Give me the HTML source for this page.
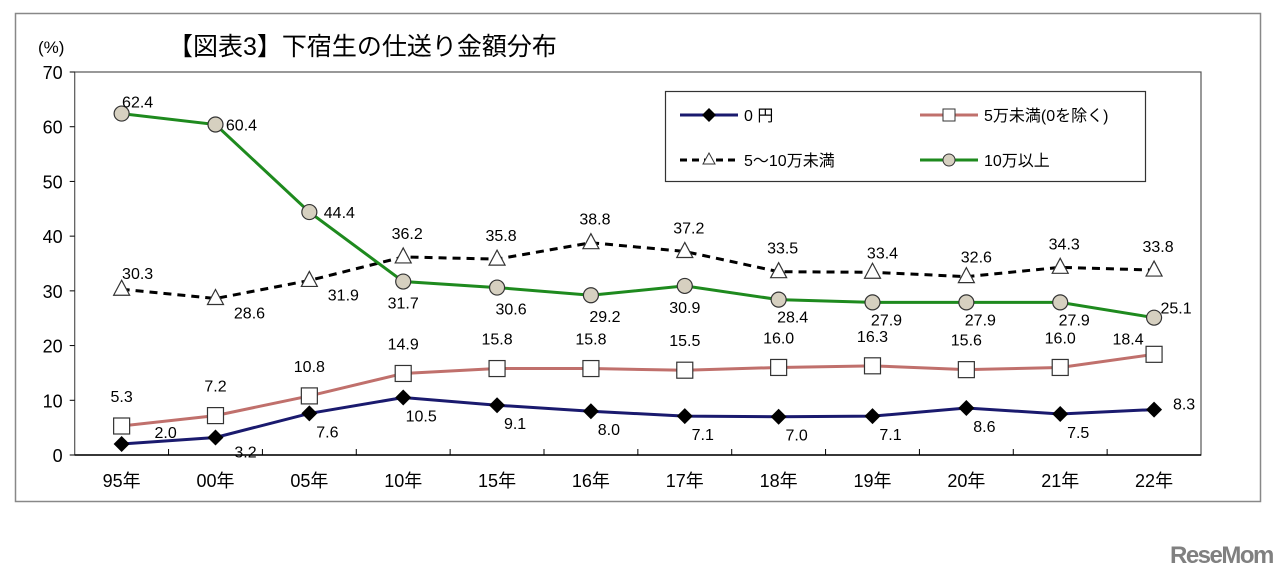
<!DOCTYPE html>
<html><head><meta charset="utf-8">
<style>
body{margin:0;background:#fff;width:1280px;height:581px;overflow:hidden;font-family:"Liberation Sans","Noto Sans CJK JP",sans-serif;}
svg text{font-family:"Liberation Sans","Noto Sans CJK JP",sans-serif;}
</style></head><body>
<svg id="chart" width="1280" height="581" xmlns="http://www.w3.org/2000/svg">
<rect x="15.5" y="13.5" width="1245" height="488" fill="#fff" stroke="#888" stroke-width="1.5"/>
<text x="38" y="53" font-size="17" fill="#000">(%)</text>
<text x="168" y="55" font-size="25" fill="#000">【図表3】下宿生の仕送り金額分布</text>
<g id="axes"></g>
<g id="series"></g>
<g id="legend">
<rect x="665.5" y="91.5" width="480" height="90" fill="#fff" stroke="#333" stroke-width="1.2"/>
<g>
<line x1="680" y1="115" x2="738" y2="115" stroke="#1a1a6e" stroke-width="3"/>
<polygon points="709,108 716,115 709,122 702,115" fill="#000"/>
<text x="744" y="121" font-size="16">0 円</text></g>
<g>
<line x1="920" y1="115" x2="978" y2="115" stroke="#c0706c" stroke-width="3"/>
<rect x="943" y="109" width="12" height="12" fill="#fff" stroke="#333"/>
<text x="984" y="121" font-size="16">5万未満(0を除く)</text></g>
<g>
<line x1="680" y1="160" x2="738" y2="160" stroke="#000" stroke-width="3" stroke-dasharray="7,5"/>
<polygon points="709,153 715,164 703,164" fill="#fff" stroke="#333"/>
<text x="744" y="166" font-size="16">5～10万未満</text></g>
<g>
<line x1="920" y1="160" x2="978" y2="160" stroke="#1e8a1e" stroke-width="3"/>
<circle cx="949" cy="160" r="6" fill="#d6d0c0" stroke="#333"/>
<text x="984" y="166" font-size="16">10万以上</text></g>
</g>
<text x="1170" y="563" font-size="24" font-weight="bold" fill="#808080" letter-spacing="-1.5">ReseMom</text>
</svg>
<script>
const categories=["95年","00年","05年","10年","15年","16年","17年","18年","19年","20年","21年","22年"];
const yTicks=[0,10,20,30,40,50,60,70];
const zeroYen=[2.0,3.2,7.6,10.5,9.1,8.0,7.1,7.0,7.1,8.6,7.5,8.3];
const under5man=[5.3,7.2,10.8,14.9,15.8,15.8,15.5,16.0,16.3,15.6,16.0,18.4];
const from5to10man=[30.3,28.6,31.9,36.2,35.8,38.8,37.2,33.5,33.4,32.6,34.3,33.8];
const over10man=[62.4,60.4,44.4,31.7,30.6,29.2,30.9,28.4,27.9,27.9,27.9,25.1];

const NS="http://www.w3.org/2000/svg";
const L=74.7,R=1201,T=72,B=455,YMAX=70;
const bw=(R-L)/categories.length;
const x=i=>L+bw*(i+0.5);
const y=v=>B-(v/YMAX)*(B-T);
function mk(tag,attrs,parent){const e=document.createElementNS(NS,tag);for(const k in attrs)e.setAttribute(k,attrs[k]);parent.appendChild(e);return e;}
const axes=document.getElementById('axes'),ser=document.getElementById('series');
let pf=mk('rect',{x:L,y:T,width:R-L,height:B-T,fill:'none',stroke:'#555','stroke-width':1.2},axes);


yTicks.forEach(t=>{
  const tx=mk('text',{x:L-12,y:y(t)+7,'font-size':18,'text-anchor':'end'},axes);tx.textContent=t;
  
  
  const tk=mk('line',{x1:L-5,x2:L,y1:y(t),y2:y(t),stroke:'#000'},axes);
  
  
});
mk('line',{x1:L,x2:R,y1:B,y2:B,stroke:'#000','stroke-width':1.5},axes);
categories.forEach((c,i)=>{
  if(i>0){const tk=mk('line',{x1:L+bw*i,x2:L+bw*i,y1:B-6,y2:B,stroke:'#000'},axes);
  
  }
  const tx=mk('text',{x:x(i),y:487,'font-size':18,'text-anchor':'middle'},axes);tx.textContent=c;
  
  
});
function line(data,color,dash,name){
  const p=mk('polyline',{points:data.map((v,i)=>x(i)+','+y(v)).join(' '),fill:'none',stroke:color,'stroke-width':3,'stroke-dasharray':dash||'none'},ser);
  
  
}
function label(i,v,dx,dy,name){
  const t=mk('text',{x:x(i)+dx,y:y(v)+dy,'font-size':16,'text-anchor':'middle'},ser);t.textContent=v.toFixed(1);
  
  
}
line(under5man,'#c0706c',null,'under5man');
line(zeroYen,'#1a1a6e',null,'zero-yen');
line(from5to10man,'#000','8,6','5to10man');
line(over10man,'#1e8a1e',null,'over10man');
zeroYen.forEach((v,i)=>{
  const m=mk('polygon',{points:[[x(i),y(v)-8],[x(i)+8,y(v)],[x(i),y(v)+8],[x(i)-8,y(v)]].join(' '),fill:'#000'},ser);
  
  
  if(i===0)label(i,v,44,-6,'zero-yen');else if(i===1)label(i,v,30,20,'zero-yen');else if(i===11)label(i,v,30,0,'zero-yen');else label(i,v,18,24,'zero-yen');
});
under5man.forEach((v,i)=>{
  const m=mk('rect',{x:x(i)-8,y:y(v)-8,width:16,height:16,fill:'#fff',stroke:'#333','stroke-width':1.2},ser);
  
  
  if(i===11)label(i,v,-26,-10,'under5man');else label(i,v,0,-24,'under5man');
});
from5to10man.forEach((v,i)=>{
  const m=mk('polygon',{points:[[x(i),y(v)-9],[x(i)+8,y(v)+6],[x(i)-8,y(v)+6]].join(' '),fill:'#fff',stroke:'#333','stroke-width':1.2},ser);
  
  
  if(i===0)label(i,v,16,-10,'5to10man');else if(i===1||i===2)label(i,v,34,20,'5to10man');else if(i===8||i===9)label(i,v,10,-14,'5to10man');else label(i,v,4,-18,'5to10man');
});
over10man.forEach((v,i)=>{
  const m=mk('circle',{cx:x(i),cy:y(v),r:7.5,fill:'#d6d0c0',stroke:'#333','stroke-width':1.2},ser);
  
  
  if(i===0)label(i,v,16,-6,'over10man');else if(i===1)label(i,v,26,6,'over10man');else if(i===2)label(i,v,30,6,'over10man');else if(i===11)label(i,v,22,-4,'over10man');else if(i===3||i===6)label(i,v,0,27,'over10man');else if(i>=7)label(i,v,14,23,'over10man');else label(i,v,14,27,'over10man');
});
</script>
</body></html>
